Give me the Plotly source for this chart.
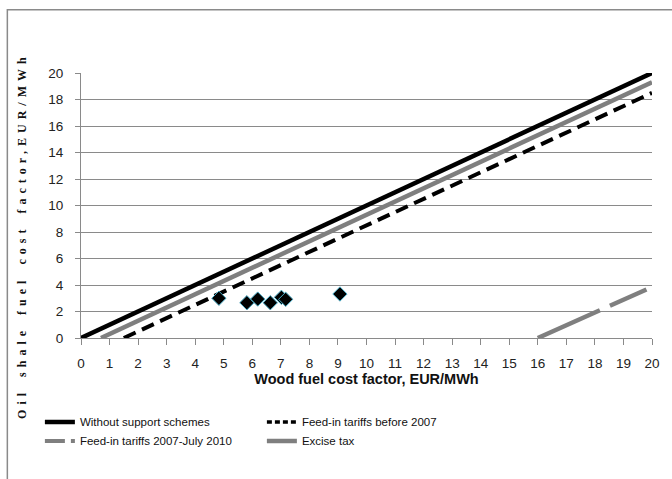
import plotly.graph_objects as go

# Cost-factor lines (wood fuel cost factor -> oil shale fuel cost factor), EUR/MWh
no_support_x = [0, 20]
no_support_y = [0, 20]

excise_x = [0.7, 20]
excise_y = [0, 19.3]

feed_before_x = [1.5, 20]
feed_before_y = [0, 18.5]

feed_2007_x = [16, 20]
feed_2007_y = [0, 3.85]

# Observed points
obs_x = [4.83, 5.81, 6.19, 6.63, 7.02, 7.17, 9.07]
obs_y = [3.0, 2.66, 2.94, 2.66, 3.07, 2.92, 3.32]

x_ticks = list(range(0, 21))
y_ticks = list(range(0, 21, 2))

SANS = "Liberation Sans, Arial, sans-serif"
GRID = "#8a8a8a"

fig = go.Figure()

fig.add_trace(go.Scatter(
    x=no_support_x, y=no_support_y, mode="lines",
    name="Without support schemes",
    line=dict(color="black", width=4.5),
))
# dashed series drawn without legend; legend samples use shorter dashes
fig.add_trace(go.Scatter(
    x=feed_before_x, y=feed_before_y, mode="lines", showlegend=False,
    line=dict(color="black", width=4, dash="13px,7px"),
))
fig.add_trace(go.Scatter(
    x=[None], y=[None], mode="lines",
    name="Feed-in tariffs before 2007",
    line=dict(color="black", width=3.5, dash="5px,3px"),
))
fig.add_trace(go.Scatter(
    x=feed_2007_x, y=feed_2007_y, mode="lines", showlegend=False,
    line=dict(color="#7f7f7f", width=4.5, dash="68px,11px,40px,10px"),
))
fig.add_trace(go.Scatter(
    x=[None], y=[None], mode="lines",
    name="Feed-in tariffs 2007-July 2010",
    line=dict(color="#7f7f7f", width=4, dash="20px,6px"),
))
fig.add_trace(go.Scatter(
    x=excise_x, y=excise_y, mode="lines",
    name="Excise tax",
    line=dict(color="#7f7f7f", width=4.5),
))
fig.add_trace(go.Scatter(
    x=obs_x, y=obs_y, mode="markers", showlegend=False,
    marker=dict(symbol="diamond", size=11, color="black",
                line=dict(color="#4bacc6", width=1)),
))

fig.update_layout(
    width=672, height=479, autosize=False,
    margin=dict(l=81, r=12, t=73, b=141),
    paper_bgcolor="white", plot_bgcolor="white",
    font=dict(family=SANS, size=13, color="#222"),
    xaxis=dict(
        range=[0, 20], tickvals=x_ticks, ticktext=[str(v) for v in x_ticks],
        showgrid=False, zeroline=False,
        showline=True, linecolor=GRID, linewidth=1,
        ticks="outside", ticklen=6, tickcolor=GRID,
        ticklabelstandoff=7,
        tickfont=dict(family=SANS, size=13.5, color="#222"),
        title=dict(text="<b>Wood fuel cost factor, EUR/MWh</b>",
                   font=dict(family=SANS, size=14.5, color="#111"),
                   standoff=2),
    ),
    yaxis=dict(
        range=[0, 20], tickvals=y_ticks,
        showgrid=True, gridcolor=GRID, gridwidth=1, zeroline=False,
        showline=True, linecolor=GRID, linewidth=1,
        ticks="outside", ticklen=5, tickcolor=GRID,
        ticklabelstandoff=9,
        tickfont=dict(family=SANS, size=13.5, color="#222"),
    ),
    legend=dict(
        orientation="h", x=-0.072, y=-0.262, xanchor="left", yanchor="top",
        entrywidth=177, entrywidthmode="pixels",
        font=dict(family=SANS, size=11.5, color="#111"),
        bgcolor="rgba(0,0,0,0)", tracegroupgap=0,
    ),
    annotations=[dict(
        text="<b>Oil shale fuel cost factor,EUR/MWh</b>",
        xref="paper", yref="paper", x=-0.103, y=0.386,
        xanchor="center", yanchor="middle", textangle=-90, showarrow=False,
        font=dict(family="Liberation Serif, Times New Roman, serif", size=12, color="#111"),
    )],
    shapes=[dict(
        type="rect", xref="paper", yref="paper",
        x0=-0.129, x1=1.3, y0=-0.8, y1=1.239,
        line=dict(color="#8a8a8a", width=1.5), layer="below",
    )],
)

# spread the letters of the vertical axis title
post = """
var t = document.querySelectorAll('.annotation-text');
t.forEach(function(el){ el.style.letterSpacing = '5px'; el.style.wordSpacing = '3px'; });
"""

fig.write_html("out.html", post_script=post)
